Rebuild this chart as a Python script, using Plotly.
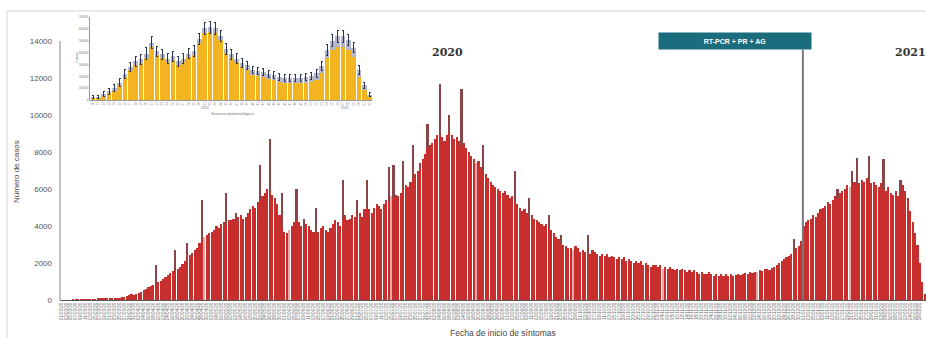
import pandas as pd
import plotly.graph_objects as go

# ---------------- Serie diaria: casos por fecha de inicio de síntomas ----------------
fechas = pd.date_range("2020-03-01", "2021-02-20", freq="D")

casos_semana = [
    [0, 0, 0, 0, 0, 2, 4],
    [6, 8, 10, 12, 15, 18, 22],
    [40, 60, 70, 55, 60, 75, 80],
    [90, 110, 120, 130, 150, 160, 200],
    [250, 300, 280, 320, 380, 450, 520],
    [600, 700, 760, 820, 900, 980, 1050],
    [1150, 1250, 1350, 1450, 1550, 1600, 1700],
    [1800, 1950, 2100, 2300, 2450, 2550, 2700],
    [2800, 3100, 3300, 3400, 3500, 3600, 3700],
    [3800, 4000, 3900, 4100, 4200, 4000, 4300],
    [4300, 4400, 4200, 4500, 4600, 4400, 4500],
    [4700, 4900, 5100, 5000, 5300, 5400, 5600],
    [5800, 6000, 5900, 5700, 5500, 5200, 4600],
    [3900, 3700, 3600, 3800, 4000, 4200, 4400],
    [4200, 4000, 3900, 4100, 4000, 3800, 3700],
    [3600, 3700, 3900, 4000, 3800, 3700, 3900],
    [4100, 4300, 4200, 4000, 4400, 4600, 4300],
    [4400, 4600, 4500, 4800, 4700, 4500, 4900],
    [5000, 4900, 4700, 5000, 5200, 5100, 4900],
    [5200, 5400, 5300, 5600, 5500, 5700, 5600],
    [5800, 6000, 6200, 6100, 6400, 6600, 6800],
    [7000, 7400, 7600, 7900, 8200, 8400, 8500],
    [8700, 8900, 9000, 8800, 8600, 8900, 9100],
    [8900, 8700, 8800, 8600, 8400, 8500, 8200],
    [8000, 7800, 7600, 7400, 7500, 7200, 7000],
    [6800, 6600, 6400, 6200, 6100, 6000, 5900],
    [5800, 5900, 5700, 5500, 5600, 5300, 5200],
    [5000, 4800, 4900, 4700, 4500, 4600, 4400],
    [4300, 4200, 4100, 4000, 4100, 3900, 3800],
    [3600, 3400, 3300, 3100, 3000, 2900, 2800],
    [2800, 2700, 2900, 2800, 2600, 2700, 2600],
    [2600, 2500, 2700, 2600, 2500, 2400, 2500],
    [2400, 2500, 2300, 2400, 2300, 2200, 2300],
    [2200, 2300, 2100, 2200, 2100, 2000, 2100],
    [2000, 2100, 1900, 2000, 1900, 1800, 1900],
    [1900, 1800, 1900, 1700, 1800, 1700, 1800],
    [1700, 1600, 1700, 1600, 1700, 1600, 1500],
    [1600, 1500, 1600, 1500, 1400, 1500, 1400],
    [1400, 1500, 1400, 1300, 1400, 1300, 1400],
    [1300, 1400, 1300, 1400, 1300, 1350, 1400],
    [1350, 1400, 1450, 1400, 1500, 1450, 1500],
    [1500, 1600, 1550, 1650, 1700, 1600, 1750],
    [1800, 1900, 2000, 2100, 2200, 2300, 2400],
    [2500, 2600, 2800, 2900, 3200, 4000, 4200],
    [4300, 4400, 4600, 4500, 4700, 4900, 5000],
    [5100, 5300, 5200, 5400, 5600, 5500, 5800],
    [5900, 6000, 6200, 6100, 6300, 6400, 6200],
    [6300, 6500, 6400, 6600, 6500, 6300, 6400],
    [6200, 6100, 6300, 6000, 5900, 6100, 5800],
    [5700, 5900, 5600, 5800, 6200, 5900, 5500],
    [4800, 4200, 3600, 3000, 2000, 1000, 300],
]
casos = [v for fila in casos_semana for v in fila]

# Días con notificación extraordinaria (valor total del día)
pico_fecha = [
    "2020-04-09", "2020-04-17", "2020-04-22", "2020-04-28", "2020-05-08",
    "2020-05-12", "2020-05-22", "2020-05-26", "2020-05-31", "2020-06-06",
    "2020-06-09", "2020-06-14", "2020-06-25", "2020-07-01", "2020-07-05",
    "2020-07-14", "2020-07-16", "2020-07-20", "2020-07-24", "2020-07-30",
    "2020-08-04", "2020-08-08", "2020-08-13", "2020-08-22", "2020-09-04",
    "2020-09-10", "2020-09-18", "2020-09-23", "2020-10-04", "2020-12-28",
    "2021-01-15", "2021-01-21", "2021-01-23", "2021-01-28", "2021-02-03",
    "2021-02-10",
]
pico_total = [
    1900, 2700, 3100, 5400, 5800,
    4700, 7300, 8700, 5800, 6000,
    4400, 5000, 6500, 5400, 6500,
    7200, 7300, 7500, 8400, 9500,
    11700, 10000, 11400, 8400, 7000,
    5500, 4600, 3500, 3500, 3300,
    6000, 7000, 7700, 7800, 7600,
    6500,
]

# Días con registro parcial (barra clara)
dias_claros = [
    "2020-04-29", "2020-06-03", "2020-07-15", "2020-08-19", "2020-09-28",
    "2020-11-04", "2020-12-13", "2021-01-20",
]

# ---------------- Serie semanal (recuadro) ----------------
semanas = pd.date_range("2020-03-01", periods=53, freq="7D")
sem_confirmados = [
    1700, 1700, 4200, 5900, 8400, 12600, 19600, 25300, 29500, 31200,
    35400, 44700, 38000, 35400, 32000, 33700, 29500, 32000, 36200, 38000,
    48000, 56500, 57300, 56500, 50500, 39600, 35400, 32000, 27800, 25300,
    21000, 20200, 19400, 17700, 16900, 15200, 14300, 14300, 14300, 14300,
    14300, 15200, 16900, 22700, 35400, 42100, 44700, 44700, 42100, 36200,
    19400, 8400, 2500,
]
sem_otros = [
    800, 800, 1000, 1200, 1500, 2000, 2500, 2500, 3000, 3000,
    3500, 3500, 3000, 3000, 3000, 3000, 3000, 3000, 3000, 3500,
    3500, 4000, 4000, 4000, 3500, 3500, 3000, 3000, 3500, 4000,
    4500, 4500, 4500, 4500, 4500, 4500, 4500, 4500, 4500, 4500,
    5000, 5000, 5500, 6000, 7000, 8000, 9000, 9000, 8500, 8000,
    6000, 4000, 2000,
]
sem_error = [
    1500, 1500, 2000, 2500, 3000, 3500, 4000, 4000, 4500, 4500,
    5000, 5000, 4500, 4500, 4500, 4500, 4000, 4000, 4500, 4500,
    5000, 5000, 5000, 5000, 4500, 4500, 4000, 4000, 3500, 3500,
    3000, 3000, 3000, 3000, 3000, 3000, 3000, 3000, 3000, 3000,
    3000, 3000, 3500, 4000, 4500, 5000, 5000, 5000, 4500, 4500,
    3500, 2500, 1500,
]

y_ticks = [0, 2000, 4000, 6000, 8000, 10000, 12000, 14000]
inset_ticks = [0, 10000, 20000, 30000, 40000, 50000, 60000, 70000]

# ---------------- Figura ----------------
W, H = 926, 338
ML, MR, MT, MB = 60, 0, 13, 38
PW, PH = W - ML - MR, H - MT - MB


def px(x):
    return (x - ML) / PW


def py(y):
    return (H - MB - y) / PH


Y_TOP = 14000 * PH / (H - MB - 41)

ROJO = "#c62f2d"
ROJO_CLARO = "#eaa9a6"
ROJO_OSCURO = "#8a4646"

fechas_txt = [f.strftime("%Y-%m-%d") for f in fechas]
colores = [ROJO_CLARO if f in dias_claros else ROJO for f in fechas_txt]
base_por_dia = dict(zip(fechas_txt, casos))
pico_extra = [t - base_por_dia[f] for f, t in zip(pico_fecha, pico_total)]

fig = go.Figure()

fig.add_trace(go.Bar(
    x=fechas, y=casos, marker=dict(color=colores, line=dict(width=0)),
    xaxis="x", yaxis="y", showlegend=False,
))
fig.add_trace(go.Bar(
    x=pd.to_datetime(pico_fecha), y=pico_extra,
    marker=dict(color=ROJO_OSCURO, line=dict(width=0)),
    xaxis="x", yaxis="y", showlegend=False,
))

# Recuadro semanal
fig.add_trace(go.Bar(
    x=semanas, y=sem_confirmados, marker=dict(color="#f2b51f", line=dict(width=0)),
    xaxis="x2", yaxis="y2", showlegend=False,
))
fig.add_trace(go.Bar(
    x=semanas, y=sem_otros, marker=dict(color="#b4b7cc", line=dict(width=0)),
    error_y=dict(type="data", array=sem_error, color="#2c3454", thickness=1, width=1),
    xaxis="x2", yaxis="y2", showlegend=False,
))

tick_fechas = fechas[::2]

fig.update_layout(
    width=W, height=H,
    margin=dict(l=ML, r=MR, t=MT, b=MB, autoexpand=False),
    paper_bgcolor="white", plot_bgcolor="white",
    barmode="stack", bargap=0.12,
    font=dict(family="Liberation Sans, Arial, sans-serif", color="#444"),
    xaxis=dict(
        range=["2020-02-29 12:00", "2021-02-20 12:00"],
        showgrid=False, zeroline=False,
        showline=True, linecolor="#555", linewidth=1,
        tickmode="array", tickvals=tick_fechas,
        ticktext=[f.strftime("%d/%m/%y") for f in tick_fechas],
        tickangle=-90, tickfont=dict(size=4.5, color="#666"), ticks="",
        automargin=False,
    ),
    yaxis=dict(
        range=[0, Y_TOP], showgrid=False, zeroline=False, showline=False,
        tickmode="array", tickvals=y_ticks,
        ticktext=[str(v) for v in y_ticks],
        tickfont=dict(size=8, color="#555"), ticks="",
        ticklabelstandoff=7, automargin=False,
    ),
    xaxis2=dict(
        domain=[px(90), px(372)], anchor="y2",
        range=["2020-02-26", "2021-03-03"],
        showgrid=False, zeroline=False, showline=True, linecolor="#999", linewidth=0.8,
        tickmode="array", tickvals=semanas,
        ticktext=[str(i % 53 + 10) for i in range(len(semanas))],
        tickangle=-90, tickfont=dict(size=3, color="#888"), ticks="",
    ),
    yaxis2=dict(
        domain=[py(100), py(17)], anchor="x2",
        range=[0, 70000], showgrid=False, zeroline=False,
        showline=True, linecolor="#999", linewidth=0.8,
        tickmode="array", tickvals=inset_ticks,
        ticktext=[str(v) for v in inset_ticks],
        tickfont=dict(size=3.5, color="#777"), ticks="",
    ),
)

shapes = [
    # eje vertical principal
    dict(type="line", xref="paper", yref="y", x0=0, x1=0, y0=0, y1=14000,
         line=dict(color="#888", width=1)),
    # inicio del uso combinado de pruebas
    dict(type="line", xref="x", yref="paper", x0="2020-12-31 18:00", x1="2020-12-31 18:00",
         y0=0, y1=py(50), line=dict(color="#7a7a7a", width=2)),
    # marco del gráfico
    dict(type="line", xref="paper", yref="paper", x0=px(7), x1=1.0, y0=py(11), y1=py(11),
         line=dict(color="#d2d2d2", width=1)),
    dict(type="line", xref="paper", yref="paper", x0=px(7), x1=px(7), y0=py(338), y1=py(11),
         line=dict(color="#d2d2d2", width=1)),
]
fig.update_layout(shapes=shapes)


def nota(text, x, y, size, color="#777", angle=0, family=None):
    font = dict(size=size, color=color)
    if family:
        font["family"] = family
    return dict(text=text, xref="paper", yref="paper", x=px(x), y=py(y),
                xanchor="center", yanchor="middle", textangle=angle,
                showarrow=False, font=font)


SERIF = "DejaVu Serif, serif"
annotations = [
    nota("<b>2020</b>", 447, 52, 11, "#333", family=SERIF),
    nota("<b>2021</b>", 910, 52, 11, "#333", family=SERIF),
    dict(text="<b>RT-PCR + PR + AG</b>", xref="x", yref="paper", x="2020-12-31 18:00", y=py(41),
         xanchor="right", yanchor="middle", xshift=9, showarrow=False,
         width=150, height=14, bgcolor="#1b6d7d", font=dict(size=7, color="white")),
    nota("Número de casos", 16, 172, 8, "#444", angle=-90),
    nota("Fecha de inicio de síntomas", 503, 333, 8.5, "#444"),
    # recuadro semanal
    nota("Casos", 76, 58, 4, angle=-90),
    nota("2020", 205, 108, 3.5),
    nota("2021", 345, 108, 3.5),
    nota("Semana epidemiológica", 232, 113, 4),
]
fig.update_layout(annotations=annotations)

fig.write_html("out.html")
